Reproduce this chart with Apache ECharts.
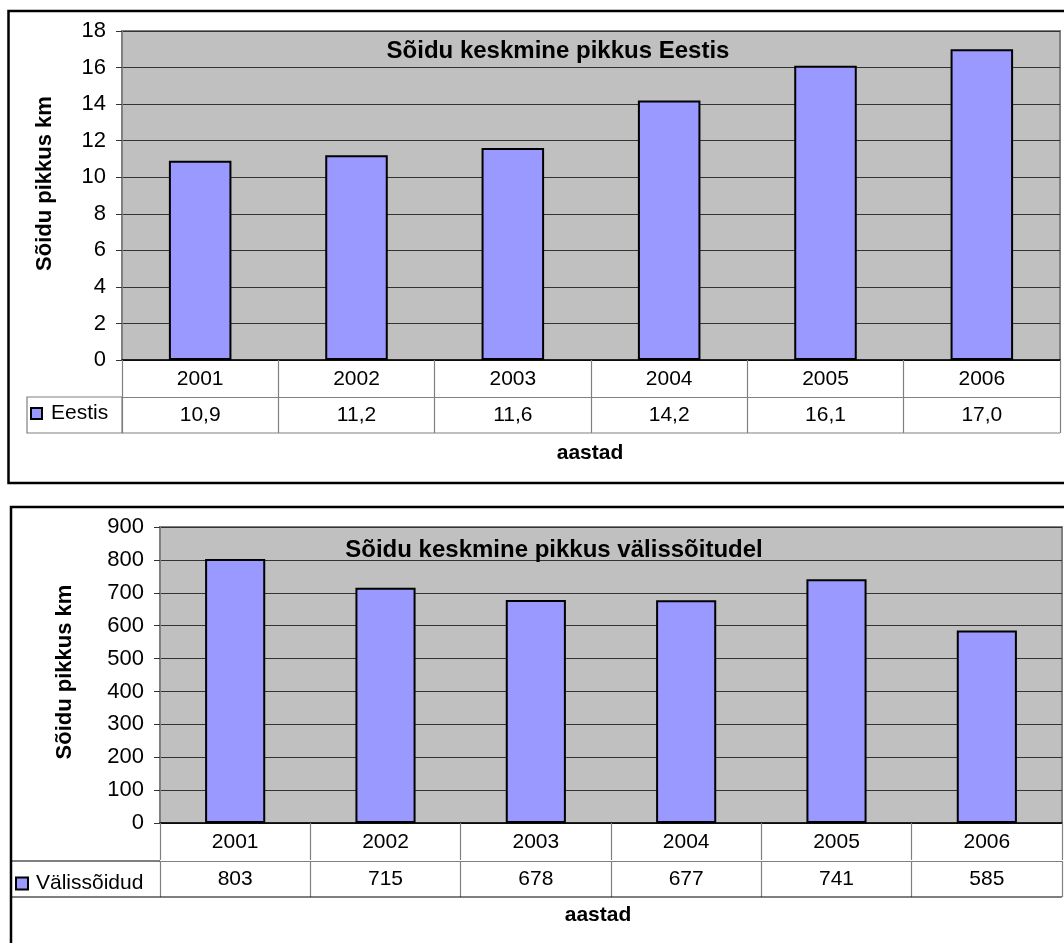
<!DOCTYPE html>
<html>
<head>
<meta charset="utf-8">
<script src="https://cdn.jsdelivr.net/npm/echarts@6/dist/echarts.min.js"></script>
<style>
html,body{margin:0;padding:0;background:#fff;}
#c{width:1064px;height:943px;}
</style>
</head>
<body>
<div id="c"></div>
<script>
// ---- data ----
var years = ['2001', '2002', '2003', '2004', '2005', '2006'];
var eestis = [10.9, 11.2, 11.6, 14.2, 16.1, 17.0];
var valis = [803, 715, 678, 677, 741, 585];
var title1 = 'Sõidu keskmine pikkus Eestis';
var title2 = 'Sõidu keskmine pikkus välissõitudel';
var seriesName1 = 'Eestis';
var seriesName2 = 'Välissõidud';
var yName = 'Sõidu pikkus km';
var xName = 'aastad';

var FONT = '"Liberation Sans", Arial, sans-serif';
var BAR = '#9999FF';
var GRAYLINE = '#808080';

var eestisText = eestis.map(function (v) { return v.toFixed(1).replace('.', ','); });
var valisText = valis.map(function (v) { return String(v); });

function yAxisOpt(gridIndex, max, interval, nameGap, namePad) {
  return {
    type: 'value', gridIndex: gridIndex, min: 0, max: max, interval: interval,
    name: yName, nameLocation: 'middle', nameRotate: 90, nameGap: nameGap,
    nameTextStyle: { fontFamily: FONT, fontSize: 22, fontWeight: 'bold', color: '#000', padding: namePad },
    axisLine: { show: true, lineStyle: { color: GRAYLINE, width: 1 } },
    axisTick: { show: true, inside: false, length: 6, lineStyle: { color: '#333' } },
    axisLabel: { fontFamily: FONT, fontSize: 22, color: '#000', margin: 16 },
    splitLine: { show: true, lineStyle: { color: '#333', width: 1 } }
  };
}
function yearAxis(gridIndex) {
  return {
    type: 'category', gridIndex: gridIndex, data: years, position: 'bottom',
    axisLine: { show: true, lineStyle: { color: '#000', width: 1.5 } },
    axisTick: { show: true, inside: false, length: 37, interval: 0, alignWithLabel: false, lineStyle: { color: GRAYLINE, width: 1.2 } },
    axisLabel: { fontFamily: FONT, fontSize: 21, color: '#000', margin: 9, interval: 0 },
    splitLine: { show: false }
  };
}
function valueRowAxis(gridIndex, texts, offset) {
  return {
    type: 'category', gridIndex: gridIndex, data: texts, position: 'bottom', offset: offset,
    axisLine: { show: true, lineStyle: { color: GRAYLINE, width: 1.2 } },
    axisTick: { show: true, inside: false, length: 36, interval: 0, alignWithLabel: false, lineStyle: { color: GRAYLINE, width: 1.2 } },
    axisLabel: { fontFamily: FONT, fontSize: 21, color: '#000', margin: 8, interval: 0 },
    splitLine: { show: false }
  };
}

var chart = echarts.init(document.getElementById('c'), null, { renderer: 'canvas' });

var option = {
  backgroundColor: '#fff',
  animation: false,
  title: [
    { text: title1, left: 553, top: 34, textAlign: 'center',
      textStyle: { fontFamily: FONT, fontSize: 24, fontWeight: 'bold', color: '#000' } },
    { text: title2, left: 549, top: 533, textAlign: 'center',
      textStyle: { fontFamily: FONT, fontSize: 24, fontWeight: 'bold', color: '#000' } }
  ],
  legend: [
    { data: [seriesName1], left: 30, top: 403, itemWidth: 11, itemHeight: 11, itemGap: 0, padding: 0,
      icon: 'rect', textStyle: { fontFamily: FONT, fontSize: 21, color: '#000', padding: [0, 0, 0, 4] } },
    { data: [seriesName2], left: 15, top: 873, itemWidth: 12, itemHeight: 12, itemGap: 0, padding: 0,
      icon: 'rect', textStyle: { fontFamily: FONT, fontSize: 21, color: '#000', padding: [0, 0, 0, 3] } }
  ],
  grid: [
    { left: 122, top: 31, right: 4, bottom: 583, show: true, backgroundColor: '#C0C0C0', borderColor: GRAYLINE, borderWidth: 2 },
    { left: 160, top: 527, right: 2, bottom: 120, show: true, backgroundColor: '#C0C0C0', borderColor: GRAYLINE, borderWidth: 2 }
  ],
  xAxis: [
    yearAxis(0),
    valueRowAxis(0, eestisText, 37),
    yearAxis(1),
    valueRowAxis(1, valisText, 38)
  ],
  yAxis: [
    yAxisOpt(0, 18, 2, 66, [0, 0, 0, 24]),
    yAxisOpt(1, 900, 100, 84, [0, 0, 0, 6])
  ],
  series: [
    { name: seriesName1, type: 'bar', xAxisIndex: 0, yAxisIndex: 0, data: eestis, barWidth: '40%',
      itemStyle: { color: BAR, borderColor: '#000', borderWidth: 2 } },
    { name: seriesName2, type: 'bar', xAxisIndex: 2, yAxisIndex: 1, data: valis, barWidth: '40%',
      itemStyle: { color: BAR, borderColor: '#000', borderWidth: 2 } }
  ],
  graphic: [
    // outer frames
    { type: 'rect', shape: { x: 8.5, y: 11, width: 1080, height: 472 }, style: { fill: null, stroke: '#000', lineWidth: 2.5 }, z: 100 },
    { type: 'rect', shape: { x: 11, y: 507, width: 1080, height: 500 }, style: { fill: null, stroke: '#000', lineWidth: 2.5 }, z: 100 },
    // legend cells of the data tables
    { type: 'rect', shape: { x: 27, y: 397, width: 95, height: 36 }, style: { fill: null, stroke: GRAYLINE, lineWidth: 1.2 }, z: 50 },
    { type: 'line', shape: { x1: 122, y1: 433, x2: 1060, y2: 433 }, style: { stroke: GRAYLINE, lineWidth: 1.2 }, z: 50 },
    { type: 'line', shape: { x1: 11, y1: 861, x2: 160, y2: 861 }, style: { stroke: '#000', lineWidth: 1.2 }, z: 50 },
    { type: 'line', shape: { x1: 11, y1: 897, x2: 1062, y2: 897 }, style: { stroke: '#000', lineWidth: 1.2 }, z: 50 },
    // x axis names
    { type: 'text', x: 590, y: 453, style: { text: xName, fontFamily: FONT, fontSize: 21, fontWeight: 'bold', fill: '#000', align: 'center', verticalAlign: 'middle' } },
    { type: 'text', x: 598, y: 915, style: { text: xName, fontFamily: FONT, fontSize: 21, fontWeight: 'bold', fill: '#000', align: 'center', verticalAlign: 'middle' } }
  ]
};
chart.setOption(option);
</script>
</body>
</html>
